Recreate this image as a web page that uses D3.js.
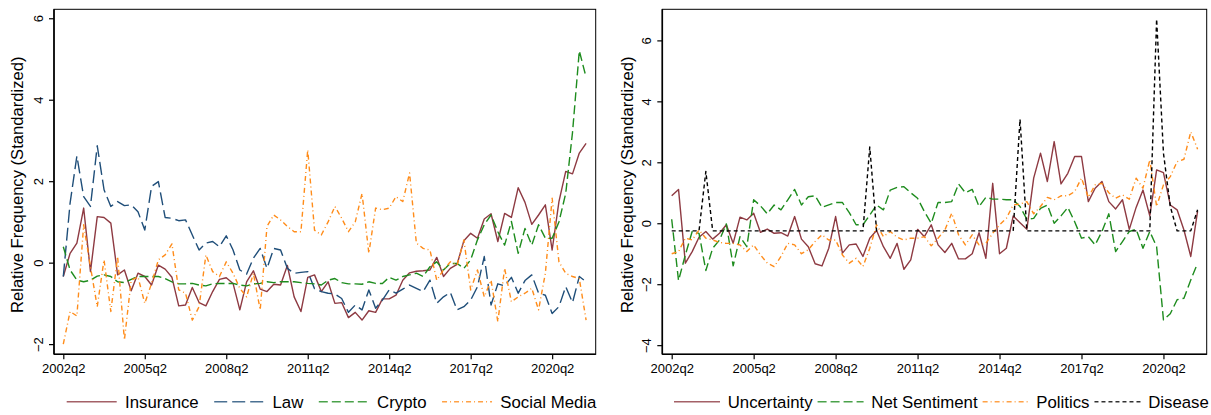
<!DOCTYPE html>
<html>
<head>
<meta charset="utf-8">
<script src="https://cdn.jsdelivr.net/npm/d3@7"></script>
<style>
  body { margin: 0; background: #fff; }
  svg { display: block; font-family: "Liberation Sans", Arial, Helvetica, sans-serif; }
</style>
</head>
<body>
<svg id="chart" width="1211" height="415"></svg>
<script>
// quarterly index 2002q2 .. 2021q3 (78 quarters)
var quarters = [];
for (var q = 0; q < 78; q++) quarters.push(q);

var tickIdx = [0, 12, 24, 36, 48, 60, 72];
var tickLabels = ["2002q2", "2005q2", "2008q2", "2011q2", "2014q2", "2017q2", "2020q2"];

// left panel
var insurance = [-0.34,0.23,0.48,1.34,-0.22,1.13,1.11,0.97,-0.30,-0.18,
  -0.69,-0.26,-0.34,-0.55,-0.06,-0.16,-0.36,-1.06,-1.04,-0.61,
  -0.98,-1.06,-0.71,-0.41,-0.37,-0.51,-1.16,-0.47,-0.20,-0.65,
  -0.71,-0.53,-0.55,-0.07,-0.84,-1.20,-0.36,-0.30,-0.71,-0.47,
  -1.00,-0.98,-1.35,-1.22,-1.41,-1.18,-1.22,-0.89,-0.89,-0.80,
  -0.43,-0.25,-0.21,-0.20,-0.18,0.13,-0.34,-0.14,-0.04,0.54,
  0.72,0.60,1.07,1.20,0.52,1.21,1.11,1.84,1.48,0.94,
  1.17,1.42,0.31,1.50,2.24,2.18,2.69,2.93];
var law = [-0.34,1.46,2.62,1.62,1.38,2.87,1.79,1.38,1.50,1.40,
  1.42,1.25,0.80,1.87,1.99,1.11,1.09,1.03,1.05,0.68,
  0.31,0.48,0.52,0.39,0.66,0.31,-0.18,-0.28,0.11,0.35,
  -0.14,0.35,0.31,-0.14,-0.26,-0.24,-0.22,-0.64,-0.71,-0.75,
  -0.77,-0.88,-1.22,-1.04,-1.16,-0.67,-1.12,-0.92,-0.67,-0.75,
  -0.65,-0.55,-0.63,-0.71,-0.43,-1.00,-0.84,-0.73,-1.16,-1.08,
  -0.92,-0.59,0.15,-1.04,-0.52,-0.57,-0.36,-0.75,-0.44,-0.30,
  -0.75,-0.80,-1.25,-1.08,-0.59,-0.98,-0.34,-0.47];
var cryptoVals = [0.39,-0.18,-0.43,-0.47,-0.43,-0.33,-0.30,-0.34,-0.47,-0.49,
  -0.41,-0.34,-0.34,-0.34,-0.34,-0.39,-0.47,-0.52,-0.52,-0.51,
  -0.55,-0.57,-0.52,-0.51,-0.51,-0.51,-0.55,-0.57,-0.52,-0.51,
  -0.47,-0.49,-0.47,-0.47,-0.47,-0.49,-0.51,-0.52,-0.55,-0.43,
  -0.39,-0.49,-0.52,-0.52,-0.53,-0.47,-0.51,-0.51,-0.36,-0.43,
  -0.34,-0.30,-0.26,-0.34,-0.10,0.02,-0.18,-0.02,-0.02,-0.14,
  0.07,0.56,0.93,1.17,0.76,0.43,1.01,0.23,0.84,0.43,
  0.93,0.60,0.60,1.00,1.70,3.20,5.20,4.55];
var socialMedia = [-2.00,-1.20,-1.31,0.93,-0.10,-1.08,0.07,-1.20,0.15,-1.90,
  -0.43,-0.35,-1.00,-0.51,0.07,0.19,0.46,-0.67,-0.75,-1.41,
  -1.08,0.19,-0.22,-0.34,0.02,-0.26,-0.63,-0.84,-0.26,-1.16,
  0.89,1.17,1.05,0.89,0.76,0.76,2.77,0.80,0.68,1.00,
  1.38,1.09,0.76,1.00,1.70,0.23,1.34,1.30,1.34,1.62,
  1.50,2.20,0.48,0.35,0.31,-0.43,-0.18,0.02,-0.06,0.56,
  -0.67,-0.18,-0.84,-0.43,-1.45,-0.14,-0.96,-0.84,-0.75,-0.63,
  -1.16,-0.26,1.58,0.02,-0.26,-0.34,-0.39,-1.41];

// right panel
var uncertainty = [0.90,1.11,-1.31,-0.93,-0.46,-0.27,-0.52,-0.33,-0.05,-0.66,
  0.20,0.11,0.33,-0.30,-0.19,-0.33,-0.31,-0.42,0.22,-0.52,
  -0.77,-1.33,-1.40,-0.82,0.22,-0.98,-0.71,-0.68,-1.09,-0.49,
  -0.24,-0.77,-1.15,-0.66,-1.51,-1.20,-0.20,-0.44,-0.05,-0.71,
  -0.96,-0.66,-1.17,-1.17,-1.00,-0.31,-1.15,1.31,-1.00,-0.82,
  0.24,0.02,-0.20,1.48,2.30,1.37,2.68,1.29,1.64,2.19,
  2.19,0.71,1.15,1.37,0.71,0.47,0.77,-0.20,0.52,1.09,
  0.24,1.75,1.66,0.60,0.44,-0.22,-1.09,0.40];
var netSentiment = [0.13,-1.88,-1.04,-0.27,-0.33,-1.55,-0.82,-0.55,-0.02,-1.40,
  -0.44,-0.77,0.77,0.57,0.31,0.60,0.44,0.77,1.11,0.60,
  0.87,0.90,0.52,0.60,0.68,0.68,0.35,-0.05,-0.05,0.27,
  0.60,0.44,1.09,1.18,1.20,1.00,0.82,0.38,0.00,0.68,
  0.68,0.71,1.29,1.00,1.11,0.55,0.85,0.79,0.79,0.77,
  0.77,0.55,0.13,0.16,0.49,0.60,0.00,0.24,0.52,0.05,
  -0.49,-0.44,-0.71,-0.27,0.31,-0.93,-0.60,-0.27,-0.20,-0.82,
  -0.27,-0.77,-3.17,-2.97,-2.51,-2.46,-1.86,-1.31];
var politics = [-1.00,-0.93,-0.49,-0.55,-0.22,-0.49,-0.55,-0.63,-0.66,-0.66,
  -0.71,-0.93,-0.71,-1.04,-1.31,-1.42,-1.09,-0.66,-0.71,-1.00,
  -0.87,-0.60,-0.38,-0.55,-0.55,-1.04,-1.31,-1.15,-1.42,-0.82,
  -0.05,-0.44,-0.27,-0.46,-0.55,-0.49,-0.49,-0.44,-0.74,-0.49,
  -0.22,0.33,-0.38,-0.71,-0.38,-0.71,-0.66,-0.33,-0.05,0.16,
  0.60,0.63,0.71,0.31,0.55,0.85,0.77,0.90,0.90,1.04,
  1.48,0.85,1.26,1.31,1.00,0.82,0.93,0.79,1.48,1.15,
  2.08,0.55,1.26,1.53,2.02,2.10,3.00,2.43];
var disease = [-0.25,-0.25,-0.25,-0.25,-0.25,1.70,-0.25,-0.25,-0.25,-0.25,
  -0.25,-0.25,-0.25,-0.25,-0.25,-0.25,-0.25,-0.25,-0.25,-0.25,
  -0.25,-0.25,-0.25,-0.25,-0.25,-0.25,-0.25,-0.25,-0.25,2.50,
  -0.25,-0.25,-0.25,-0.25,-0.25,-0.25,-0.25,-0.25,-0.25,-0.25,
  -0.25,-0.25,-0.25,-0.25,-0.25,-0.25,-0.25,-0.25,-0.25,-0.25,
  -0.25,3.41,-0.25,-0.25,-0.25,-0.25,-0.25,-0.25,-0.25,-0.25,
  -0.25,-0.25,-0.25,-0.25,-0.25,-0.25,-0.25,-0.25,-0.25,-0.25,
  -0.25,6.70,2.30,0.55,-0.25,-0.25,-0.25,0.44];

var leftYTicks = [-2, 0, 2, 4, 6];
var rightYTicks = [-4, -2, 0, 2, 4, 6];

var MAROON = "#8e3a42", NAVY = "#1f4e79", GREEN = "#1e8c1e", ORANGE = "#ff8c1a", BLACK = "#000000";

var svg = d3.select("#chart");

function drawPanel(p) {
    var g = svg.append("g");
    var x = d3.scaleLinear().domain([0, 77]).range([p.x0, p.x1]);
    var y = d3.scaleLinear().domain(p.yDomain).range([p.bottom, p.top]);

    // plot region outline
    g.append("rect")
        .attr("x", p.left).attr("y", p.top)
        .attr("width", p.right - p.left).attr("height", p.bottom - p.top)
        .attr("fill", "none").attr("stroke", "#000").attr("stroke-width", 1);

    var line = d3.line()
        .x(function(d, i) { return x(quarters[i]); })
        .y(function(d) { return y(d); });

    for (var s = 0; s < p.series.length; s++) {
        var se = p.series[s];
        g.append("path")
            .datum(se.values)
            .attr("d", line)
            .attr("fill", "none")
            .attr("stroke", se.color)
            .attr("stroke-width", 1.4)
            .attr("stroke-dasharray", se.dash)
            .attr("stroke-linejoin", "round");
    }

    // y axis
    var ya = g.append("g").attr("transform", "translate(" + p.left + ",0)")
        .call(d3.axisLeft(y).tickValues(p.yTicks).tickSize(5).tickSizeOuter(0).tickFormat(d3.format("d")));
    ya.select(".domain").attr("stroke-width", 1.6)
        .attr("d", "M0," + p.top + "V" + p.bottom);
    ya.selectAll(".tick line").attr("stroke-width", 1.2);
    ya.selectAll(".tick text")
        .attr("x", 0).attr("dy", null).attr("y", 0)
        .attr("transform", "translate(-11.5,0) rotate(-90)")
        .attr("text-anchor", "middle")
        .attr("font-size", 13).attr("fill", "#000");

    // x axis
    var xa = g.append("g").attr("transform", "translate(0," + p.bottom + ")")
        .call(d3.axisBottom(x).tickValues(tickIdx).tickSize(5).tickSizeOuter(0)
            .tickFormat(function(d) { return tickLabels[tickIdx.indexOf(d)]; }));
    xa.select(".domain").attr("stroke-width", 1.6)
        .attr("d", "M" + p.left + ",0H" + p.right);
    xa.selectAll(".tick line").attr("stroke-width", 1.2);
    xa.selectAll(".tick text").attr("y", 9).attr("font-size", 13).attr("fill", "#000");

    // y title
    g.append("text")
        .attr("transform", "translate(" + p.titleX + "," + ((p.top + p.bottom) / 2 + 3) + ") rotate(-90)")
        .attr("text-anchor", "middle")
        .attr("dy", "0.35em")
        .attr("font-size", 16.6)
        .text("Relative Frequency (Standardized)");

    // legend
    var lx = p.legendX0, ly = 401.7;
    for (var k = 0; k < p.series.length; k++) {
        var it = p.series[k];
        g.append("line")
            .attr("x1", lx).attr("x2", lx + p.keyW)
            .attr("y1", ly).attr("y2", ly)
            .attr("stroke", it.color).attr("stroke-width", 1.4)
            .attr("stroke-dasharray", it.dash).attr("opacity", 0.8);
        var t = g.append("text")
            .attr("x", lx + p.keyW + p.keyGap).attr("y", ly)
            .attr("dy", "0.35em").attr("font-size", 16.8)
            .text(it.name);
        lx = lx + p.keyW + p.keyGap + t.node().getComputedTextLength() + p.itemGap;
    }
}

drawPanel({
    left: 54, right: 595.7, top: 9.3, bottom: 354.3,
    x0: 63.3, x1: 586.1,
    yDomain: [-2.25, 6.22], yTicks: leftYTicks, titleX: 17,
    legendX0: 66.7, keyW: 50, keyGap: 8.3, itemGap: 15.5,
    series: [
        { name: "Insurance", values: insurance, color: MAROON, dash: null },
        { name: "Law", values: law, color: NAVY, dash: "13,5" },
        { name: "Crypto", values: cryptoVals, color: GREEN, dash: "9,4" },
        { name: "Social Media", values: socialMedia, color: ORANGE, dash: "5,3,1,3" }
    ]
});

drawPanel({
    left: 662.3, right: 1206.7, top: 9.3, bottom: 354.3,
    x0: 671.7, x1: 1197.6,
    yDomain: [-4.3, 7.02], yTicks: rightYTicks, titleX: 627,
    legendX0: 674, keyW: 46, keyGap: 7.7, itemGap: 5,
    series: [
        { name: "Uncertainty", values: uncertainty, color: MAROON, dash: null },
        { name: "Net Sentiment", values: netSentiment, color: GREEN, dash: "9,4" },
        { name: "Politics", values: politics, color: ORANGE, dash: "5,3,1,3" },
        { name: "Disease", values: disease, color: BLACK, dash: "4,3" }
    ]
});
</script>
</body>
</html>
